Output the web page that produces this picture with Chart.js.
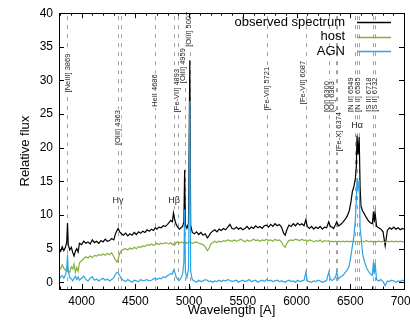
<!DOCTYPE html>
<html>
<head>
<meta charset="utf-8">
<script src="https://cdn.jsdelivr.net/npm/chart.js@4/dist/chart.umd.min.js"></script>
<style>
  html, body { margin: 0; padding: 0; background: #fff; }
</style>
</head>
<body>
<canvas id="spec" width="410" height="327"></canvas>
<script>
// spectrum values (wavelength in A, relative flux)
var wavelength = [3790, 3805, 3820, 3835, 3850, 3862, 3869, 3876, 3890, 3905, 3918, 3930, 3942, 3955, 3968, 3980,
    4000, 4020, 4040, 4060, 4080, 4100, 4120, 4140, 4160, 4180, 4200, 4220, 4240, 4260, 4280, 4300,
    4315, 4330, 4340, 4355, 4370, 4390, 4410, 4430, 4450, 4470, 4490, 4510, 4530, 4550, 4570, 4590,
    4610, 4630, 4650, 4670, 4686, 4700, 4720, 4740, 4760, 4780, 4800, 4815, 4830, 4845, 4855, 4865,
    4880, 4895, 4910, 4925, 4940, 4952, 4959, 4966, 4980, 4995, 5007, 5015, 5030, 5050, 5070, 5090,
    5110, 5130, 5150, 5170, 5185, 5200, 5220, 5240, 5260, 5280, 5300, 5320, 5340, 5360, 5380, 5400,
    5420, 5440, 5460, 5480, 5500, 5520, 5540, 5560, 5580, 5600, 5620, 5640, 5660, 5680, 5700, 5721,
    5740, 5760, 5780, 5800, 5820, 5840, 5860, 5880, 5895, 5910, 5930, 5950, 5970, 5990, 6010, 6030,
    6050, 6070, 6087, 6100, 6120, 6140, 6160, 6180, 6200, 6220, 6240, 6260, 6280, 6300, 6315, 6330,
    6345, 6363, 6374, 6390, 6410, 6430, 6450, 6470, 6490, 6505, 6520, 6535, 6548, 6556, 6563, 6573,
    6583, 6592, 6600, 6615, 6630, 6650, 6670, 6690, 6705, 6716, 6723, 6731, 6745, 6765, 6785, 6805,
    6825, 6845, 6865, 6885, 6905, 6925, 6945, 6965, 6985, 7000];

var observed = [5.0, 4.6, 5.3, 4.7, 5.2, 6.0, 8.8, 5.6, 4.8, 5.2, 4.4, 3.9, 4.6, 5.0, 4.5, 5.8,
    5.6, 6.1, 5.8, 6.0, 5.7, 6.3, 5.9, 6.1, 5.8, 6.2, 6.0, 6.4, 6.1, 6.2, 6.5, 6.3,
    7.2, 7.7, 8.0, 7.5, 7.2, 7.0, 7.3, 6.9, 7.2, 7.0, 7.4, 7.1, 7.5, 7.3, 7.6, 7.4,
    7.8, 7.6, 7.9, 7.7, 8.1, 7.9, 8.2, 8.1, 8.4, 8.3, 8.6, 8.9, 9.2, 9.0, 10.3, 9.4,
    8.6, 8.2, 7.9, 8.1, 8.3, 9.0, 16.7, 8.6, 8.0, 8.8, 33.0, 8.5, 7.4, 7.2, 7.5, 7.1,
    7.4, 7.0, 7.2, 6.6, 6.9, 7.3, 7.6, 7.8, 7.5, 7.9, 7.7, 8.0, 7.8, 8.2, 8.6, 8.0,
    7.9, 8.2, 7.9, 8.1, 7.8, 8.0, 8.3, 7.9, 8.2, 8.0, 8.4, 8.1, 8.3, 8.0, 8.4, 8.5,
    8.2, 8.6, 8.3, 8.7, 8.4, 8.6, 8.2, 7.3, 7.0, 7.8, 8.5, 8.3, 8.7, 8.4, 8.8, 8.5,
    8.7, 8.4, 9.3, 8.3, 8.0, 8.3, 7.9, 8.2, 8.0, 8.3, 7.9, 8.2, 8.1, 9.0, 8.3, 8.2,
    8.0, 8.6, 9.0, 8.4, 8.6, 8.9, 9.3, 9.8, 10.6, 11.8, 13.5, 14.3, 15.5, 17.0, 21.8, 19.0,
    21.6, 14.0, 11.3, 10.6, 10.2, 9.6, 9.1, 8.8, 8.7, 10.5, 8.9, 10.3, 8.3, 8.1, 7.9, 7.5,
    5.4, 7.7, 8.1, 7.9, 8.2, 7.9, 8.1, 7.8, 8.0, 7.9];

var host = [2.3, 2.0, 2.6, 2.1, 1.8, 2.0, 2.4, 1.7, 1.5, 2.3, 2.0, 2.7, 1.5, 2.2, 1.6, 2.9,
    3.2, 3.5, 3.8, 3.6, 3.9, 3.7, 4.0, 3.9, 4.1, 4.0, 4.2, 4.0, 4.3, 4.1, 4.4, 3.8,
    3.3, 3.0, 3.4, 4.3, 4.7, 4.9, 5.0, 4.8, 5.1, 4.9, 5.2, 5.0, 5.3, 5.2, 5.4, 5.3,
    5.6, 5.5, 5.7, 5.5, 5.6, 5.8, 5.6, 5.8, 5.7, 5.9, 5.8, 5.7, 5.9, 5.6, 5.7, 5.5,
    5.9, 6.0, 5.8, 6.0, 5.9, 5.8, 5.9, 6.0, 5.8, 5.9, 6.0, 5.9, 5.8, 5.9, 6.0, 5.8,
    5.7, 5.6, 5.3, 4.7, 5.0, 5.6, 5.9, 6.1, 5.9, 6.1, 6.0, 6.2, 6.1, 6.3, 6.2, 6.1,
    6.3, 6.1, 6.2, 6.4, 6.2, 6.0, 6.3, 6.1, 6.2, 6.4, 6.2, 6.3, 6.1, 6.3, 6.2, 6.4,
    6.2, 6.3, 6.1, 6.4, 6.2, 6.3, 6.0, 5.4, 5.2, 5.8, 6.2, 6.3, 6.2, 6.4, 6.3, 6.2,
    6.4, 6.2, 6.3, 6.1, 6.3, 6.2, 6.0, 6.2, 6.1, 6.3, 6.0, 6.2, 6.1, 6.2, 6.0, 6.1,
    6.0, 6.1, 6.0, 6.1, 6.0, 6.1, 6.0, 6.1, 6.0, 6.1, 6.0, 6.1, 6.0, 6.1, 6.1, 6.1,
    6.0, 6.0, 6.1, 6.1, 6.0, 6.2, 6.0, 6.1, 6.0, 6.1, 6.0, 6.1, 6.0, 6.1, 6.0, 6.1,
    5.9, 6.1, 6.0, 6.1, 6.0, 6.1, 6.0, 6.1, 6.0, 6.1];

var agn = [0.4, 0.8, 1.0, 0.6, 1.1, 2.0, 4.1, 1.6, 0.7, 0.5, 0.2, 0.6, 0.9, 0.4, 0.8, 0.3,
    0.6, 0.9, 0.4, 0.2, 0.6, 0.8, 0.3, 0.5, 0.2, 0.4, 0.6, 0.3, 0.5, 0.2, 0.4, 0.7,
    1.2, 1.5, 1.4, 1.0, 0.5, 0.3, 0.1, 0.4, 0.2, 0.0, 0.3, 0.2, 0.1, 0.4, 0.2, 0.3,
    0.4, 0.2, 0.3, 0.5, 0.6, 0.4, 0.6, 0.5, 0.8, 0.7, 1.0, 1.1, 1.3, 1.2, 1.8, 1.6,
    0.8, 0.4, 0.3, 0.6, 1.2, 3.0, 10.8, 1.5, 0.7, 2.0, 27.0, 1.6, 0.4, 0.2, 0.0, 0.3,
    0.1, 0.2, 0.4, 0.3, 0.1, 0.2, 0.0, 0.2, 0.1, 0.3, 0.1, 0.3, 0.2, 0.4, 0.3, 0.1,
    0.2, 0.3, 0.0, 0.2, 0.3, 0.1, 0.2, 0.4, 0.1, 0.2, 0.3, 0.0, 0.2, 0.3, 0.1, 0.4,
    0.2, 0.3, 0.1, 0.2, 0.3, 0.1, 0.2, 0.1, 0.0, 0.2, 0.3, 0.1, 0.2, 0.0, 0.3, 0.1,
    0.2, 0.3, 1.5, 0.2, 0.1, 0.0, 0.2, 0.1, 0.3, 0.2, 0.0, 0.1, 0.3, 1.5, 0.4, 0.3,
    0.4, 0.8, 1.5, 0.5, 0.8, 1.0, 1.4, 1.8, 2.4, 3.8, 5.4, 7.0, 9.5, 12.0, 15.5, 14.0,
    15.2, 8.0, 6.8, 4.2, 3.2, 2.2, 1.6, 1.2, 1.0, 3.0, 1.2, 2.9, 0.4, 0.2, 0.4, 0.1,
    -0.5, 0.2, 0.1, 0.3, 0.2, 0.0, 0.2, 0.1, 0.3, 0.2];

var seriesNames = ['observed spectrum', 'host', 'AGN'];
var seriesColors = ['#000000', '#86b03a', '#2ea3e3'];

// axis tick labels
var xTicks = [4000, 4500, 5000, 5500, 6000, 6500, 7000];
var yTicks = [0, 5, 10, 15, 20, 25, 30, 35, 40];

// emission line markers
var lineWave = [3869, 4340, 4363, 4686, 4861, 4893, 4959, 5007, 5721, 6087, 6300, 6363, 6374, 6548, 6563, 6583, 6716, 6731];
var labelText = ['[NeIII] 3869', '[OIII] 4363', 'HeII 4686', '[Fe-VII] 4893', '[OIII] 4959', '[OIII] 5007',
    '[Fe-VII] 5721', '[Fe-VII] 6087', '[OI] 6300', '[OI] 6363', '[Fe-X] 6374', '[N II] 6549', '[N II] 6585',
    '[S II] 6718', '[S II] 6732'];
var labelWave = [3872, 4337, 4682, 4887, 4943, 4998, 5725, 6060, 6283, 6334, 6390, 6502, 6567, 6674, 6730];
var labelFlux = [31.1, 23.0, 28.5, 28.5, 32.2, 37.6, 28.8, 29.7, 27.6, 27.6, 22.4, 27.9, 27.9, 27.9, 27.9];
var balmerText = ['H\u03b3', 'H\u03b2', 'H\u03b1'];
var balmerWave = [4340, 4861, 6563];
var balmerFlux = [12.1, 12.1, 23.3];

var FONT = '"Liberation Sans", Arial, sans-serif';

function toPoints(ys) {
    return wavelength.map(function (w, i) { return { x: w, y: ys[i] }; });
}

// dashed line markers + their labels, drawn under the spectra
var markerPlugin = {
    id: 'markers',
    beforeDatasetsDraw: function (chart) {
        var ctx = chart.ctx, xs = chart.scales.x, ys = chart.scales.y, area = chart.chartArea;
        ctx.save();
        ctx.strokeStyle = '#a0a0a0';
        ctx.lineWidth = 1;
        ctx.setLineDash([4, 5]);
        lineWave.forEach(function (w) {
            var px = Math.round(xs.getPixelForValue(w)) + 0.5;
            ctx.beginPath();
            ctx.moveTo(px, area.top + 3);
            ctx.lineTo(px, area.bottom);
            ctx.stroke();
        });
        ctx.setLineDash([]);
        ctx.font = '7.5px ' + FONT;
        ctx.textAlign = 'center';
        ctx.textBaseline = 'middle';
        labelText.forEach(function (t, i) {
            var px = xs.getPixelForValue(labelWave[i]);
            var py = ys.getPixelForValue(labelFlux[i]);
            var w = ctx.measureText(t).width;
            ctx.save();
            ctx.translate(px, py);
            ctx.rotate(-Math.PI / 2);
            ctx.fillStyle = '#fff';
            ctx.fillRect(-w / 2 - 1, -3.5, w + 2, 7);
            ctx.fillStyle = '#222';
            ctx.fillText(t, 0, 0);
            ctx.restore();
        });
        ctx.font = '9px ' + FONT;
        balmerText.forEach(function (t, i) {
            var px = xs.getPixelForValue(balmerWave[i]);
            var py = ys.getPixelForValue(balmerFlux[i]);
            ctx.fillStyle = '#fff';
            ctx.fillRect(px - 5, py - 5, 10, 10);
            ctx.fillStyle = '#222';
            ctx.fillText(t, px, py);
        });
        ctx.restore();
    }
};

// gnuplot style frame with inward ticks, plus the legend
var framePlugin = {
    id: 'frame',
    afterDraw: function (chart) {
        var ctx = chart.ctx, xs = chart.scales.x, ys = chart.scales.y, a = chart.chartArea;
        ctx.save();
        ctx.strokeStyle = '#000';
        ctx.lineWidth = 1;
        ctx.strokeRect(Math.round(a.left) + 0.5, Math.round(a.top) + 0.5,
            Math.round(a.right - a.left), Math.round(a.bottom - a.top));
        ctx.beginPath();
        for (var w = 3800; w <= 7000; w += 100) {
            var px = Math.round(xs.getPixelForValue(w)) + 0.5;
            var len = (w % 500 === 0) ? 5 : 2.5;
            ctx.moveTo(px, a.bottom); ctx.lineTo(px, a.bottom - len);
            ctx.moveTo(px, a.top); ctx.lineTo(px, a.top + len);
        }
        ys.ticks.forEach(function (t) {
            var py = Math.round(ys.getPixelForValue(t.value)) + 0.5;
            ctx.moveTo(a.left, py); ctx.lineTo(a.left + 5, py);
            ctx.moveTo(a.right, py); ctx.lineTo(a.right - 5, py);
        });
        ctx.stroke();

        ctx.font = '13px ' + FONT;
        ctx.textAlign = 'right';
        ctx.textBaseline = 'middle';
        ctx.fillStyle = '#000';
        seriesNames.forEach(function (n, i) {
            var y = 22 + i * 14.5;
            ctx.fillText(n, 345, y);
            ctx.strokeStyle = seriesColors[i];
            ctx.lineWidth = 1.5;
            ctx.beginPath();
            ctx.moveTo(357, Math.round(y) + 0.5);
            ctx.lineTo(391, Math.round(y) + 0.5);
            ctx.stroke();
        });
        ctx.restore();
    }
};

var ctx = document.getElementById('spec').getContext('2d');
var specChart = new Chart(ctx, {
    type: 'line',
    data: {
        datasets: [
            { label: seriesNames[0], data: toPoints(observed), borderColor: seriesColors[0], borderWidth: 1.2, order: 2 },
            { label: seriesNames[1], data: toPoints(host), borderColor: seriesColors[1], borderWidth: 1.2, order: 1 },
            { label: seriesNames[2], data: toPoints(agn), borderColor: seriesColors[2], borderWidth: 1.2, order: 0 }
        ]
    },
    options: {
        responsive: false,
        animation: false,
        devicePixelRatio: 1,
        layout: { padding: { top: 11, right: 6, left: 0, bottom: 0 } },
        elements: { point: { radius: 0 }, line: { tension: 0 } },
        plugins: { legend: { display: false }, tooltip: { enabled: false } },
        scales: {
            x: {
                type: 'linear',
                min: 3790,
                max: 7000,
                grid: { display: false, drawTicks: false },
                border: { display: false },
                ticks: { padding: 5, color: '#000', font: { family: FONT, size: 12 }, maxRotation: 0,
                    callback: function (v) { return v; } },
                afterBuildTicks: function (s) {
                    s.ticks = xTicks.map(function (v) { return { value: v }; });
                },
                title: { display: true, text: 'Wavelength [A]', color: '#000',
                    font: { family: FONT, size: 13 }, padding: { top: 0, bottom: 9 } },
                afterFit: function (s) { s.height = 38; s.paddingRight = 0; s.paddingLeft = 0; }
            },
            y: {
                min: -1,
                max: 40,
                grid: { display: false, drawTicks: false },
                border: { display: false },
                ticks: { padding: 6, color: '#000', font: { family: FONT, size: 12 } },
                afterBuildTicks: function (s) {
                    s.ticks = yTicks.map(function (v) { return { value: v }; });
                },
                title: { display: true, text: 'Relative flux', color: '#000',
                    font: { family: FONT, size: 13 }, padding: { top: 18, bottom: 0 } },
                afterFit: function (s) { s.width = 59; }
            }
        }
    },
    plugins: [markerPlugin, framePlugin]
});
</script>
</body>
</html>
